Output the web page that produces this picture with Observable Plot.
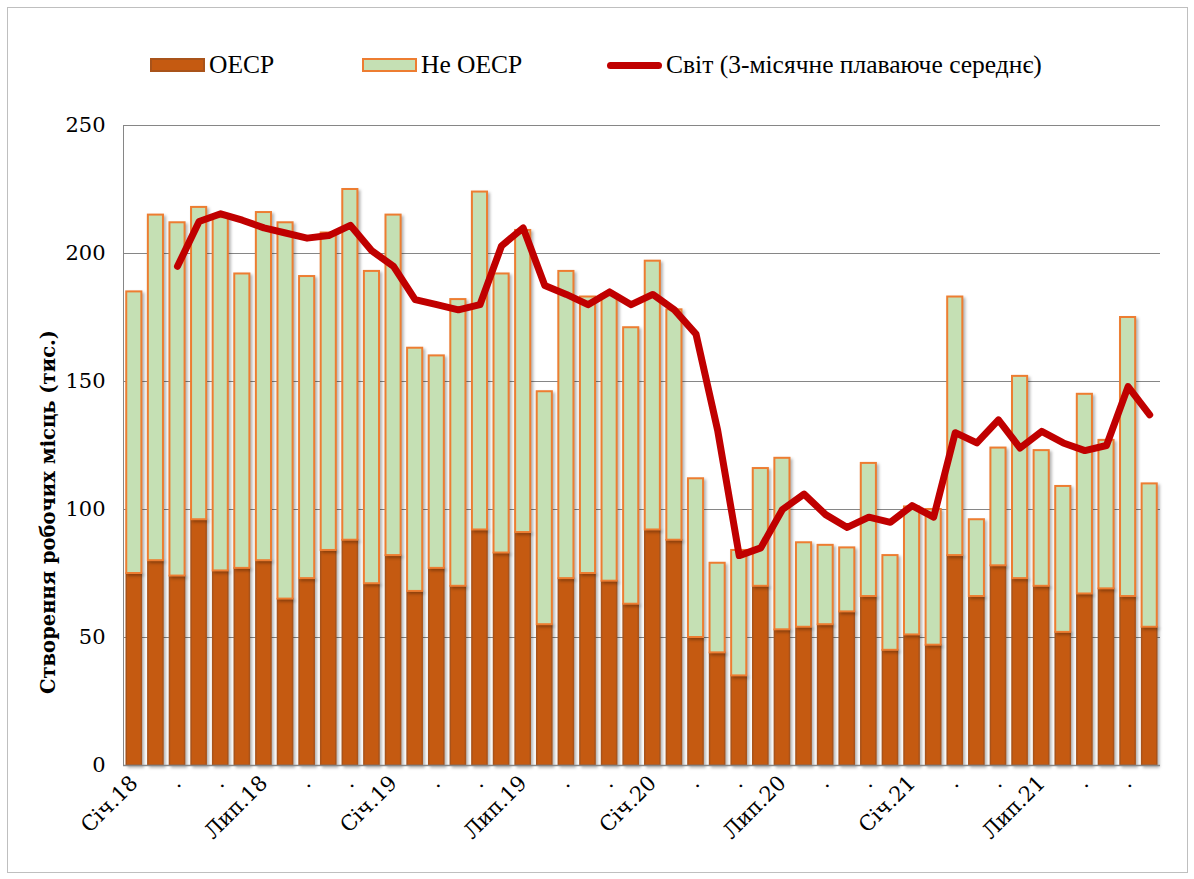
<!DOCTYPE html>
<html><head><meta charset="utf-8">
<script src="https://cdn.jsdelivr.net/npm/d3@7"></script>
<script src="https://cdn.jsdelivr.net/npm/@observablehq/plot@0.6"></script>
<style>
body{margin:0;background:#fff;}
#wrap{position:relative;width:1194px;height:879px;overflow:hidden;font-family:"DejaVu Serif",serif;}
#border{position:absolute;left:7px;top:7px;width:1181px;height:866px;border:1px solid #bfbfbf;box-sizing:border-box;}
#chart{position:absolute;left:0;top:0;}
#chart svg text{font-family:"DejaVu Serif",serif !important;}
#legend{position:absolute;top:50px;left:0;width:100%;height:30px;font-family:"Liberation Serif",serif;font-size:25.5px;color:#000;}
.item{position:absolute;top:0;display:flex;align-items:center;height:30px;white-space:nowrap;}
.sw{width:55px;height:14px;box-sizing:border-box;margin-right:4px;}
#ylabel{position:absolute;left:48px;top:512px;transform:translate(-50%,-50%) rotate(-90deg);white-space:nowrap;font-family:"DejaVu Serif",serif;font-weight:bold;font-size:19.5px;color:#000;}
.shadow{filter:drop-shadow(2px 2px 1.5px rgba(0,0,0,0.3));}
</style></head>
<body>
<div id="wrap">
  <div id="border"></div>
  <div id="chart"></div>
  <div id="legend"></div>
  <div id="ylabel"></div>
</div>
<script>
const months = [];
for (const yr of [2018, 2019, 2020, 2021]) for (let m = 1; m <= 12; m++) months.push(`${yr}-${String(m).padStart(2, "0")}`);

const seriesNames = ["OECP", "Не OECP", "Світ (3-місячне плаваюче середнє)"];
const yLabel = "Створення робочих місць (тис.)";

const oecd = [75, 80, 74, 96, 76, 77, 80, 65, 73, 84, 88, 71,
              82, 68, 77, 70, 92, 83, 91, 55, 73, 75, 72, 63,
              92, 88, 50, 44, 35, 70, 53, 54, 55, 60, 66, 45,
              51, 47, 82, 66, 78, 73, 70, 52, 67, 69, 66, 54];
const nonOecd = [110, 135, 138, 122, 138, 115, 136, 147, 118, 124, 137, 122,
                 133, 95, 83, 112, 132, 109, 118, 91, 120, 108, 112, 108,
                 105, 90, 62, 35, 49, 46, 67, 33, 31, 25, 52, 37,
                 50, 53, 101, 30, 46, 79, 53, 57, 78, 58, 109, 56];
const world = [null, null, 195, 212.5, 215.5, 213, 210, 208, 206, 207, 211, 201,
               195, 182, 180, 178, 180, 203, 210, 187.5, 184, 180, 185, 180,
               184, 178, 168.5, 131, 82, 85, 100, 106, 98, 93, 97, 95,
               101.5, 97, 130, 126, 135, 124, 130.5, 126, 123, 125, 148, 137];
const tickLabels = ["Січ.18", ".", ".", "Лип.18", ".", ".",
                    "Січ.19", ".", ".", "Лип.19", ".", ".",
                    "Січ.20", ".", ".", "Лип.20", ".", ".",
                    "Січ.21", ".", ".", "Лип.21", ".", "."];
const yTicks = [0, 50, 100, 150, 200, 250];

const colors = {oecdFill: "#c55a11", oecdStroke: "#a9531a", nonFill: "#c5e0b4", nonStroke: "#ed7d31", world: "#c00000", grid: "#868686"};

const rows = months.map((m, i) => ({month: m, oecd: oecd[i], non: nonOecd[i], top: oecd[i] + nonOecd[i]}));
const worldRows = months.map((m, i) => ({month: m, world: world[i]})).filter(d => d.world != null);
const labelFor = {};
tickLabels.forEach((t, k) => { labelFor[months[2 * k]] = t; });

const plot = Plot.plot({
  width: 1194, height: 879,
  marginLeft: 123, marginRight: 34, marginTop: 125, marginBottom: 114,
  style: {fontSize: "21px", color: "#000", background: "transparent"},
  x: {domain: months, paddingInner: 0.3, paddingOuter: 0.15, round: false},
  y: {domain: [0, 250]},
  marks: [
    Plot.gridY(yTicks.slice(1), {stroke: colors.grid, strokeOpacity: 1, strokeWidth: 1}),
    Plot.barY(rows, {x: "month", y1: 0, y2: "oecd", fill: colors.oecdFill, stroke: colors.oecdStroke, strokeWidth: 1.5, className: "shadow"}),
    Plot.barY(rows, {x: "month", y1: "oecd", y2: "top", fill: colors.nonFill, stroke: colors.nonStroke, strokeWidth: 2, className: "shadow"}),
    Plot.ruleY([0], {stroke: colors.grid, strokeWidth: 1.5}),
    Plot.frame({anchor: "left", stroke: colors.grid}),
    Plot.line(worldRows, {x: "month", y: "world", stroke: colors.world, strokeWidth: 7, strokeLinejoin: "round", strokeLinecap: "round"}),
    Plot.axisY({ticks: yTicks, tickSize: 0, tickPadding: 18, label: null, tickFormat: d => String(d)}),
    Plot.axisX({tickSize: 0, tickPadding: 14, tickRotate: -45, label: null, fontSize: 21, tickFormat: m => labelFor[m] ?? ""})
  ]
});
document.getElementById("chart").appendChild(plot);

const legend = document.getElementById("legend");
const items = [
  {left: 150, html: `<div class="sw" style="background:${colors.oecdFill};border:2px solid ${colors.oecdStroke}"></div>`},
  {left: 362, html: `<div class="sw" style="background:${colors.nonFill};border:2px solid ${colors.nonStroke}"></div>`},
  {left: 607, html: `<div class="sw" style="height:7px;border-radius:4px;background:${colors.world}"></div>`}
];
items.forEach((it, i) => {
  const d = document.createElement("div");
  d.className = "item";
  d.style.left = it.left + "px";
  d.innerHTML = it.html + `<span>${seriesNames[i]}</span>`;
  legend.appendChild(d);
});
document.getElementById("ylabel").textContent = yLabel;
</script>
</body></html>
